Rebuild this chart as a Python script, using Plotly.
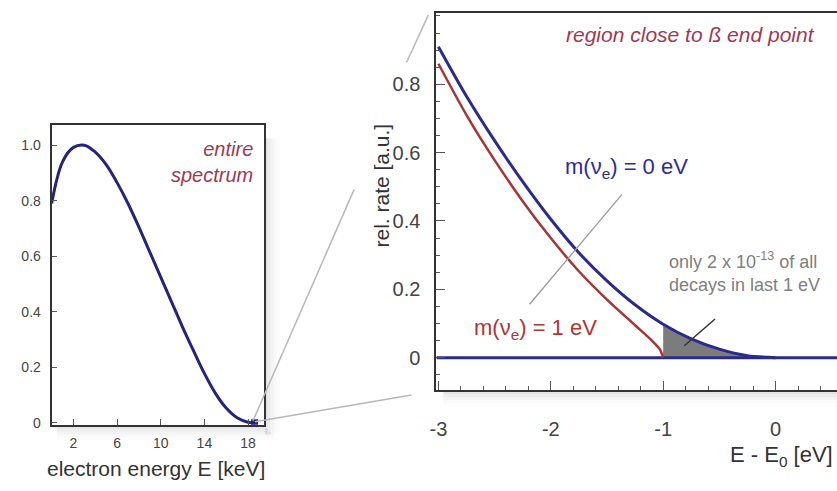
import plotly.graph_objects as go

W, H = 837, 491
FONT = "Liberation Sans, Arial, sans-serif"

# ---- data: entire tritium beta spectrum (left panel)
spec_energy_kev = [0, 1, 2, 3, 4, 5, 6, 7, 8, 9, 10, 11, 12, 13, 14, 15, 16, 17, 18, 18.6]
spec_rate = [0.79, 0.94, 0.992, 1.0, 0.975, 0.93, 0.865, 0.79, 0.705, 0.615,
             0.525, 0.435, 0.345, 0.26, 0.178, 0.107, 0.053, 0.018, 0.002, 0.0]
endpoint_kev = [18.6]
endpoint_rate = [0.0]
left_xticks = [2, 6, 10, 14, 18]
left_yticks = [0, 0.2, 0.4, 0.6, 0.8, 1.0]
left_yticklabels = ["0", "0.2", "0.4", "0.6", "0.8", "1.0"]

# ---- data: region close to end point (right panel)
de_m0 = [-3.0, -2.75, -2.5, -2.25, -2.0, -1.75, -1.5, -1.25, -1.0, -0.75, -0.5, -0.25, 0.0]
rate_m0 = [0.91, 0.765, 0.635, 0.515, 0.405, 0.307, 0.225, 0.155, 0.098, 0.055, 0.025, 0.006, 0.0]
de_m1 = [-3.0, -2.75, -2.5, -2.25, -2.0, -1.75, -1.5, -1.25, -1.1, -1.03, -1.0]
rate_m1 = [0.86, 0.71, 0.578, 0.458, 0.35, 0.253, 0.17, 0.095, 0.05, 0.025, 0.0]
shade_de = [-1.0, -0.75, -0.5, -0.25, 0.0]
shade_rate = [0.098, 0.055, 0.025, 0.006, 0.0]
right_xticks = [-3, -2, -1, 0]
right_xticklabels = ["-3", "-2", "-1", "0"]
right_yticks = [0, 0.2, 0.4, 0.6, 0.8]
right_yticklabels = ["0", "0.2", "0.4", "0.6", "0.8"]

X1_RANGE = [0, 19.45]
Y1_RANGE = [-0.007, 1.071]
X2_RANGE = [-3.018, 0.547]
Y2_RANGE = [-0.095, 1.009]

NAVY = "#24247e"
BLUE = "#2b2b8c"
RED = "#a83434"


def px(x):
    return x / W


def py(y):
    return 1 - y / H


fig = go.Figure()

# left spectrum
fig.add_trace(go.Scatter(x=spec_energy_kev, y=spec_rate, mode="lines",
                         line=dict(color=NAVY, width=3, shape="spline", smoothing=1.0),
                         xaxis="x", yaxis="y", hoverinfo="skip"))
fig.add_trace(go.Scatter(x=endpoint_kev, y=endpoint_rate, mode="markers",
                         marker=dict(color=NAVY, size=7, symbol="square"),
                         xaxis="x", yaxis="y", hoverinfo="skip"))

# shaded area of last eV
fig.add_trace(go.Scatter(x=shade_de + [shade_de[0]], y=shade_rate + [0.0], mode="lines",
                         fill="toself", fillcolor="#7c7c7c", line=dict(width=0, color="#7c7c7c"),
                         xaxis="x2", yaxis="y2", hoverinfo="skip"))
# baseline
fig.add_trace(go.Scatter(x=X2_RANGE, y=[0, 0], mode="lines",
                         line=dict(color=BLUE, width=3), xaxis="x2", yaxis="y2", hoverinfo="skip"))
# m = 1 eV
fig.add_trace(go.Scatter(x=de_m1, y=rate_m1, mode="lines",
                         line=dict(color=RED, width=2.5, shape="spline", smoothing=0.8),
                         xaxis="x2", yaxis="y2", hoverinfo="skip"))
# m = 0 eV
fig.add_trace(go.Scatter(x=de_m0, y=rate_m0, mode="lines",
                         line=dict(color=BLUE, width=3, shape="spline", smoothing=0.8),
                         xaxis="x2", yaxis="y2", hoverinfo="skip"))

axis_common = dict(showgrid=False, zeroline=False, showline=True, linecolor="#333333",
                   linewidth=2, ticks="inside", tickcolor="#555555", mirror=True)

fig.update_layout(
    width=W, height=H, margin=dict(l=0, r=0, t=0, b=0),
    paper_bgcolor="white", plot_bgcolor="white", showlegend=False,
    font=dict(family=FONT, color="#333333"),
    xaxis=dict(domain=[px(45), px(259)], range=X1_RANGE, tickvals=left_xticks,
               ticklen=6, tickfont=dict(size=14, color="#444"), ticklabelstandoff=4,
               anchor="y", **axis_common),
    yaxis=dict(domain=[py(430), py(127)], range=Y1_RANGE, tickvals=left_yticks,
               ticktext=left_yticklabels, ticklen=5, tickfont=dict(size=14, color="#444"),
               ticklabelstandoff=6, anchor="x", **axis_common),
    xaxis2=dict(domain=[px(433), 1.0], range=X2_RANGE, tickvals=right_xticks,
                ticktext=right_xticklabels,
                ticklen=9, tickfont=dict(size=20, color="#444"), ticklabelstandoff=20,
                minor=dict(dtick=0.2, tick0=-3, ticks="inside", ticklen=4, tickcolor="#555"),
                anchor="y2", **axis_common),
    yaxis2=dict(domain=[py(395), py(13)], range=Y2_RANGE, tickvals=right_yticks,
                ticktext=right_yticklabels, ticklen=9, tickfont=dict(size=20, color="#444"),
                ticklabelstandoff=10,
                minor=dict(dtick=0.05, tick0=0, ticks="inside", ticklen=4, tickcolor="#555"),
                anchor="x2", showline=True, linecolor="#333333", linewidth=2,
                showgrid=False, zeroline=False, ticks="inside", tickcolor="#555555", mirror=False),
)

shapes = []
# drop shadows
for i, a in enumerate([0.10, 0.07, 0.045, 0.025, 0.012]):
    shapes.append(dict(type="rect", xref="paper", yref="paper", layer="below",
                       x0=px(260 + 3 * i), x1=px(263 + 3 * i), y0=py(440), y1=py(140),
                       fillcolor=f"rgba(0,0,0,{a})", line=dict(width=0)))
    shapes.append(dict(type="rect", xref="paper", yref="paper", layer="below",
                       x0=px(50), x1=px(260 + 3 * i), y0=py(431 + 3 * i), y1=py(434 + 3 * i),
                       fillcolor=f"rgba(0,0,0,{a})", line=dict(width=0)))
    shapes.append(dict(type="rect", xref="paper", yref="paper", layer="below",
                       x0=px(440), x1=1.0, y0=py(396 + 3 * i), y1=py(399 + 3 * i),
                       fillcolor=f"rgba(0,0,0,{a})", line=dict(width=0)))
# zoom connector lines
for (x0, y0, x1, y1) in [(248, 426, 350, 192), (403, 63, 425, 15), (250, 427, 408, 400)]:
    shapes.append(dict(type="line", xref="paper", yref="paper", x0=px(x0), y0=py(y0),
                       x1=px(x1), y1=py(y1), line=dict(color="#b8b8b8", width=1.5)))
# label leader lines
shapes.append(dict(type="line", xref="paper", yref="paper", x0=px(620), y0=py(197),
                   x1=px(527), y1=py(308), line=dict(color="#9a9a9a", width=1.3)))
shapes.append(dict(type="line", xref="paper", yref="paper", x0=px(714), y0=py(323),
                   x1=px(683), y1=py(350), line=dict(color="#333333", width=1.5)))
fig.update_layout(shapes=shapes)

ann = []


def add_text(text, x, y, size, color, xanchor="center", italic=False, angle=0, align="center"):
    ann.append(dict(text=f"<i>{text}</i>" if italic else text, x=px(x), y=py(y),
                    xref="paper", yref="paper", showarrow=False, xanchor=xanchor,
                    yanchor="middle", textangle=angle, align=align,
                    font=dict(family=FONT, size=size, color=color)))


add_text("region close to ß end point", 689, 35, 21, "#9e3a52", italic=True)
add_text("entire<br>spectrum", 250, 164, 20, "#9e3a52", xanchor="right", italic=True, align="right")
add_text("m(ν<sub>e</sub>) = 0 eV", 625, 170, 22, "#2d2d9a")
add_text("m(ν<sub>e</sub>) = 1 eV", 533, 333, 22, "#b03535")
add_text("only 2 x 10<sup>-13</sup> of all<br>decays in last 1 eV", 666, 275, 18, "#808080",
         xanchor="left", align="left")
add_text("rel. rate [a.u.]", 378, 188, 21, "#333333", angle=-90)
add_text("E - E<sub>0</sub> [eV]", 781, 462, 22, "#333333")
add_text("electron energy E [keV]", 150, 474, 21, "#333333")
fig.update_layout(annotations=ann)

fig.write_html("out.html")
